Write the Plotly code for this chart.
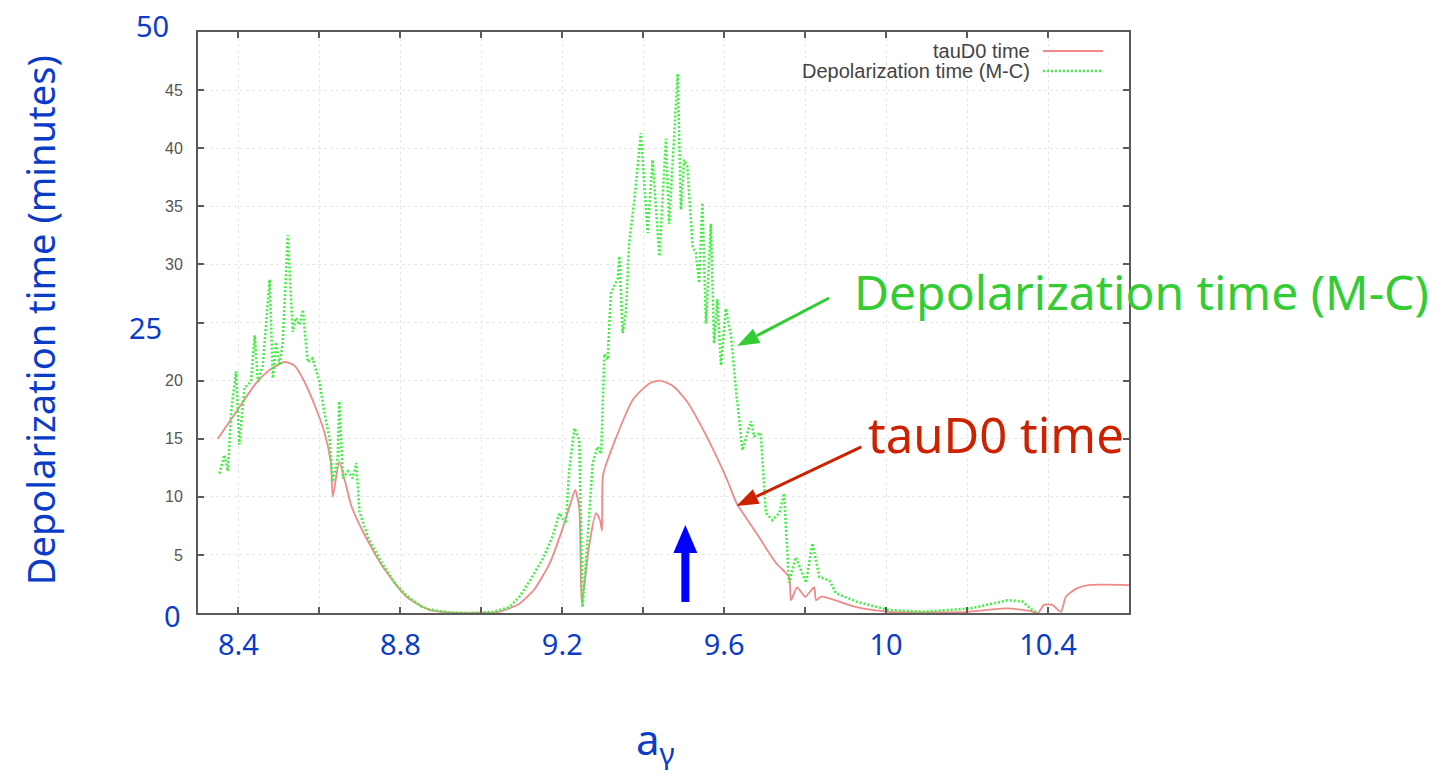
import math
import plotly.graph_objects as go

# tauD0 time (smooth analytic estimate)
tau_x = [8.349, 8.398, 8.444, 8.480, 8.514, 8.538, 8.563, 8.588, 8.612, 8.628, 8.633,
         8.649, 8.667, 8.678, 8.706, 8.756, 8.815, 8.872, 8.920, 8.970, 9.044, 9.094,
         9.130, 9.168, 9.200, 9.221, 9.232, 9.242, 9.248, 9.265, 9.283, 9.293, 9.298,
         9.301, 9.333, 9.375, 9.417, 9.442, 9.475, 9.508, 9.558, 9.608, 9.630, 9.679,
         9.728, 9.760, 9.765, 9.780, 9.800, 9.822, 9.827, 9.840, 9.926, 10.007, 10.100,
         10.200, 10.300, 10.360, 10.375, 10.390, 10.410, 10.432, 10.444, 10.470, 10.500,
         10.600]
tau_y = [15.0, 17.5, 19.8, 21.0, 21.6, 21.3, 19.9, 17.9, 15.6, 13.0, 10.0,
         13.0, 10.8, 9.3, 7.1, 4.0, 1.4, 0.26, 0.05, 0.0, 0.1, 0.8,
         2.0, 4.2, 7.2, 9.5, 10.6, 9.0, 0.8, 5.5, 8.6, 8.0, 7.1,
         11.9, 15.1, 18.4, 19.8, 20.0, 19.5, 18.2, 15.1, 11.4, 9.5, 6.9,
         4.3, 3.1, 1.1, 2.2, 1.4, 2.2, 1.1, 1.4, 0.5, 0.1, 0.05,
         0.1, 0.4, 0.15, 0.0, 0.7, 0.7, 0.1, 1.4, 2.1, 2.4,
         2.4]

# Depolarization time from Monte-Carlo tracking
mc_x = [8.353, 8.365, 8.374, 8.382, 8.394, 8.402, 8.415, 8.431, 8.440, 8.448, 8.460,
        8.477, 8.485, 8.493, 8.501, 8.509, 8.522, 8.534, 8.542, 8.551, 8.559, 8.571,
        8.583, 8.600, 8.612, 8.625, 8.633, 8.645, 8.649, 8.658, 8.670, 8.682, 8.691,
        8.699, 8.720, 8.756, 8.790, 8.815, 8.850, 8.872, 8.920, 8.970, 9.030, 9.069,
        9.094, 9.120, 9.151, 9.175, 9.193, 9.209, 9.217, 9.230, 9.242, 9.250, 9.263,
        9.275, 9.287, 9.296, 9.304, 9.312, 9.320, 9.337, 9.341, 9.349, 9.357, 9.365,
        9.378, 9.394, 9.411, 9.423, 9.440, 9.456, 9.464, 9.485, 9.493, 9.501, 9.509,
        9.522, 9.530, 9.538, 9.546, 9.555, 9.567, 9.575, 9.583, 9.592, 9.604, 9.617,
        9.629, 9.645, 9.666, 9.674, 9.690, 9.703, 9.719, 9.736, 9.748, 9.760, 9.777,
        9.802, 9.818, 9.835, 9.860, 9.876, 9.925, 10.007, 10.090, 10.210, 10.300,
        10.336, 10.360, 10.375]
mc_y = [12.0, 13.6, 12.2, 17.3, 20.8, 14.5, 19.4, 19.9, 23.9, 19.9, 21.3,
        28.7, 20.2, 23.3, 21.3, 23.1, 32.5, 24.2, 25.4, 24.8, 26.1, 21.6,
        21.9, 19.9, 17.3, 15.0, 11.3, 13.3, 18.2, 11.6, 12.2, 11.6, 12.9,
        8.7, 6.5, 4.2, 2.4, 1.5, 0.6, 0.3, 0.05, 0.0, 0.1, 0.5,
        1.4, 2.8, 4.6, 6.5, 8.6, 7.7, 12.3, 15.9, 14.9, 0.5, 6.6,
        12.9, 14.3, 13.7, 22.3, 21.8, 27.5, 28.8, 30.7, 24.1, 25.8, 31.8,
        35.5, 41.3, 32.7, 39.0, 30.7, 40.8, 33.5, 46.4, 34.7, 39.0, 38.4,
        31.5, 31.0, 28.4, 35.3, 24.9, 33.5, 23.2, 27.0, 21.3, 26.2, 23.8,
        19.2, 14.0, 16.5, 15.2, 15.5, 8.6, 8.0, 8.6, 10.3, 2.6, 4.8,
        2.6, 6.0, 3.1, 2.8, 1.7, 1.0, 0.26, 0.1, 0.4, 1.1,
        1.0, 0.3, 0.0]

# labelled and unlabelled tick positions
x_label_ticks = [8.4, 8.8, 9.2, 9.6, 10.0, 10.4]
x_label_text = ["8.4", "8.8", "9.2", "9.6", "10", "10.4"]
x_plain_ticks = [8.6, 9.0, 9.4, 9.8, 10.2, 10.6]
y_label_ticks = [5, 10, 15, 20, 30, 35, 40, 45]
y_plain_ticks = [0, 25, 50]
y_blue_labels = [50, 25, 0]

BLUE = "#0a3cc8"
GREEN_TXT = "#33cc33"
RED_TXT = "#cc2200"
RED_LINE = "#ee8a8a"
GREEN_LINE = "#44ee44"
FRAME = "#5a5a5a"
GRID = "#e6e6e6"
TEXT_FONT = "Noto Sans"

fig = go.Figure()
fig.add_trace(go.Scatter(x=tau_x, y=tau_y, mode="lines", name="tauD0 time",
                         line=dict(color=RED_LINE, width=1.8, shape="spline", smoothing=0.6),
                         showlegend=False))
fig.add_trace(go.Scatter(x=mc_x, y=mc_y, mode="lines", name="Depolarization time (M-C)",
                         line=dict(color=GREEN_LINE, width=2.6, dash="2px,2px"),
                         showlegend=False))

axis_common = dict(showline=True, linecolor=FRAME, linewidth=2, mirror="ticks",
                   ticks="inside", ticklen=6, tickcolor=FRAME, tickwidth=1.5,
                   showgrid=True, gridcolor=GRID, griddash="dot", gridwidth=1,
                   zeroline=False)
minor_common = dict(ticks="inside", ticklen=6, tickcolor=FRAME, tickwidth=1.5,
                    showgrid=True, gridcolor=GRID, griddash="dot", gridwidth=1)

fig.update_xaxes(range=[8.3, 10.6], tickmode="array", tickvals=x_label_ticks,
                 ticktext=x_label_text, tickfont=dict(family=TEXT_FONT, size=29, color=BLUE),
                 ticklabelstandoff=5, minor=dict(tickvals=x_plain_ticks, **minor_common),
                 **axis_common)
fig.update_yaxes(range=[0, 50], tickmode="array", tickvals=y_label_ticks,
                 ticktext=[str(v) for v in y_label_ticks],
                 tickfont=dict(family="Liberation Sans", size=16, color="#555555"),
                 ticklabelstandoff=10, minor=dict(tickvals=y_plain_ticks, **minor_common),
                 **axis_common)


def txt(x, y, text, size, color, family=TEXT_FONT, xanchor="center", xref="paper",
        yref="paper", **kw):
    return dict(x=x, y=y, xref=xref, yref=yref, text=text, showarrow=False,
                xanchor=xanchor, yanchor="middle",
                font=dict(family=family, size=size, color=color), **kw)


annotations = []
# blue overlay labels on the y axis
y_label_pos = {50: (-0.0494, 7), 25: (-0.0559, -5), 0: (-0.0269, -2)}
for v in y_blue_labels:
    px, shift = y_label_pos[v]
    annotations.append(txt(px, v, str(v), 29, BLUE, yref="y", yshift=shift))

# axis titles
annotations.append(txt(-0.1697, 0.504, "Depolarization time (minutes)", 38, BLUE,
                       textangle=-90))
annotations.append(txt(0.491, -0.222, "a<sub>γ</sub>", 42, BLUE))

# in-plot key (gnuplot style: text then sample)
annotations.append(txt(0.8958, 0.9673, "tauD0 time", 20, "#444444",
                       family="Liberation Sans", xanchor="right"))
annotations.append(txt(0.8958, 0.9329, "Depolarization time (M-C)", 20, "#444444",
                       family="Liberation Sans", xanchor="right"))

# callout labels
annotations.append(txt(0.7025, 0.5525, "Depolarization time (M-C)", 48, GREEN_TXT,
                       xanchor="left"))
annotations.append(txt(0.7175, 0.308, "tauD0 time", 49, RED_TXT, xanchor="left"))


def arrow_shapes(x, y, tail_dx, tail_dy, color, head_len=22, head_half=8, width=3):
    """Straight arrow whose tip sits on (x, y); tail offset given in pixels (up = +)."""
    length = math.hypot(tail_dx, tail_dy)
    ux, uy = tail_dx / length, tail_dy / length
    nx, ny = -uy, ux
    bx, by = head_len * ux, head_len * uy
    head = (f"M 0 0 L {bx + head_half * nx:.2f} {by + head_half * ny:.2f} "
            f"L {bx - head_half * nx:.2f} {by - head_half * ny:.2f} Z")
    common = dict(xref="x", yref="y", xsizemode="pixel", ysizemode="pixel",
                  xanchor=x, yanchor=y)
    return [
        dict(type="line", x0=bx, y0=by, x1=tail_dx, y1=tail_dy,
             line=dict(color=color, width=width), **common),
        dict(type="path", path=head, fillcolor=color, line=dict(width=0), **common),
    ]


# blue marker arrow pointing up at the chosen working point
AX = 9.504
shapes = [
    dict(type="rect", xref="x", yref="y", x0=AX - 0.0099, x1=AX + 0.0099, y0=0.95, y1=5.3,
         fillcolor="#0000ff", line=dict(width=0)),
    dict(type="path", xref="x", yref="y",
         path=f"M {AX - 0.0296} 5.16 L {AX + 0.0296} 5.16 L {AX} 7.57 Z",
         fillcolor="#0000ff", line=dict(width=0)),
    # key samples
    dict(type="line", xref="paper", yref="paper", x0=0.9076, x1=0.972, y0=0.9673, y1=0.9673,
         line=dict(color=RED_LINE, width=1.8)),
    dict(type="line", xref="paper", yref="paper", x0=0.9076, x1=0.972, y0=0.9329, y1=0.9329,
         line=dict(color=GREEN_LINE, width=2.6, dash="2px,2px")),
]
shapes += arrow_shapes(9.632, 22.98, 92, 48, GREEN_TXT)
shapes += arrow_shapes(9.630, 9.21, 125, 59, RED_TXT)

fig.update_layout(width=1441, height=780, autosize=False,
                  margin=dict(l=198, r=312, t=32, b=167),
                  paper_bgcolor="white", plot_bgcolor="white",
                  annotations=annotations, shapes=shapes, showlegend=False)

fig.write_html("out.html")
